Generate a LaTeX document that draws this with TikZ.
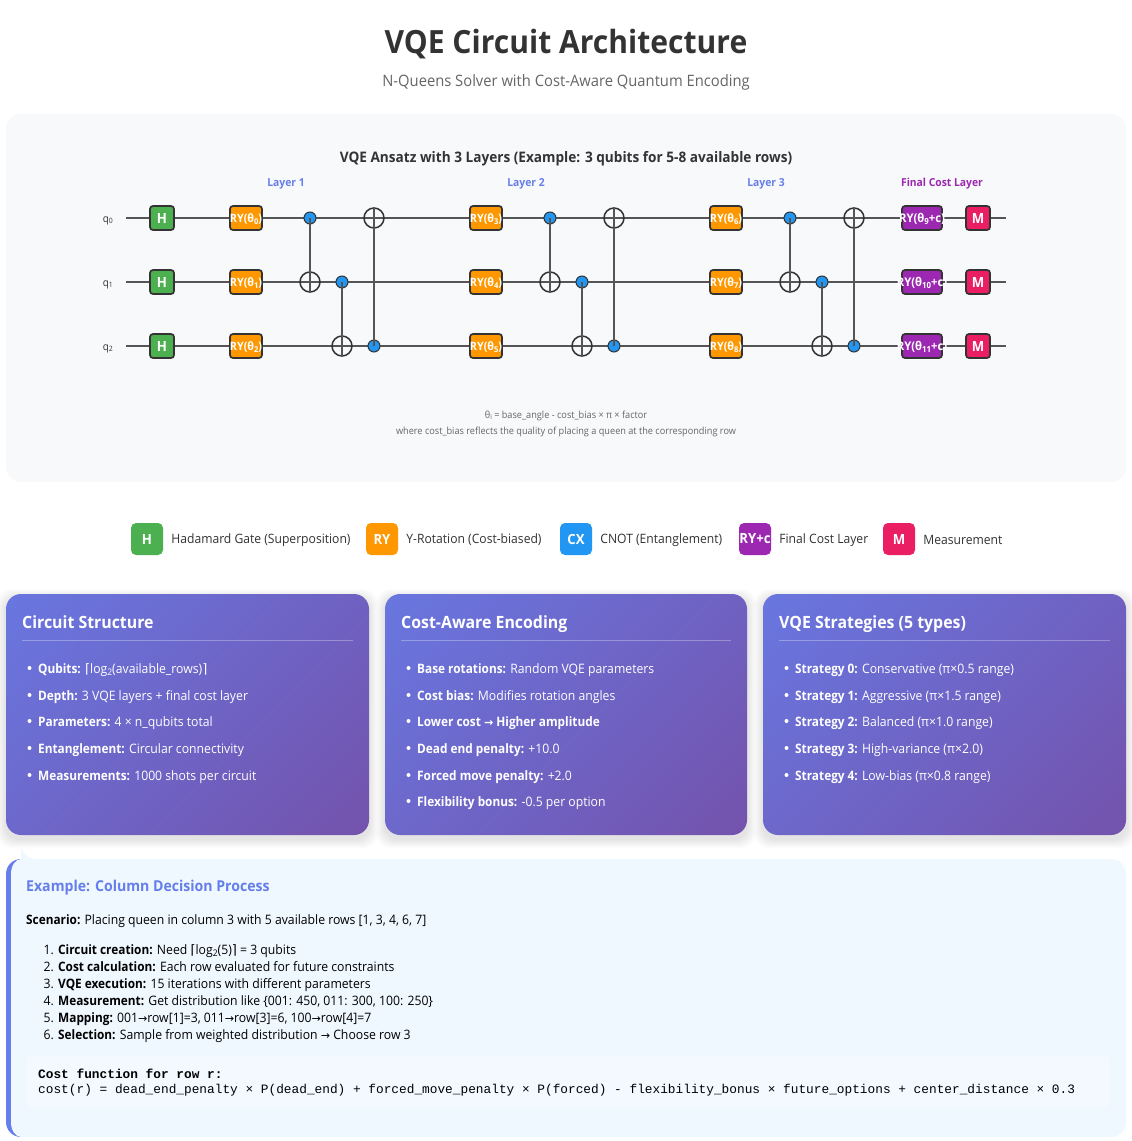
\documentclass[tikz,border=0pt]{standalone}
\usepackage{fontspec}
\setmainfont{Open Sans}[FakeStretch=0.94]
\setmonofont{Liberation Mono}
\newfontfamily\symfont{DejaVu Sans}
\newfontfamily\labfamily{Open Sans}[FakeStretch=0.91]
\usetikzlibrary{positioning}
\definecolor{inkdark}{HTML}{333333}
\definecolor{inkgray}{HTML}{666666}
\definecolor{wiregray}{HTML}{555555}
\definecolor{panelbg}{HTML}{F8F9FA}
\definecolor{examplebg}{HTML}{F0F8FF}
\definecolor{mainblue}{HTML}{667EEA}
\definecolor{mainpurple}{HTML}{764BA2}
\definecolor{hgreen}{HTML}{4CAF50}
\definecolor{ryorange}{HTML}{FF9800}
\definecolor{cxblue}{HTML}{2196F3}
\definecolor{finalpurple}{HTML}{9C27B0}
\definecolor{measpink}{HTML}{E91E63}
\pgfdeclarehorizontalshading{cardgrad}{100bp}{color(0bp)=(mainblue); color(100bp)=(mainpurple)}
\newcommand{\px}[1]{\fontsize{#1}{#1}\selectfont}
\newcommand{\low}[1]{\raisebox{-.3ex}{\scalebox{.7}{#1}}}
\newcommand{\lab}[1]{{\labfamily\bfseries #1}}
\newcommand{\ceilL}{{\symfont ⌈}}
\newcommand{\ceilR}{{\symfont ⌉}}
\newcommand{\toarrow}{{\symfont\scalebox{.85}{→}}}

\begin{document}
\begin{tikzpicture}[x=1pt, y=-1pt,
    gate/.style={draw=inkdark, line width=1.7pt, rounded corners=3pt, minimum height=24pt, inner sep=0pt, text=white, font=\px{14}\bfseries},
    hgate/.style={gate, fill=hgreen, minimum width=24pt},
    rygate/.style={gate, fill=ryorange, minimum width=32pt, text height=8.5pt, text depth=0pt, font=\px{11.5}\bfseries},
    finalgate/.style={gate, fill=finalpurple, minimum width=40pt, text height=8.5pt, text depth=0pt, font=\px{12}\bfseries},
    mgate/.style={gate, fill=measpink, minimum width=24pt},
    ctrl/.style={circle, draw=inkdark, fill=cxblue, line width=1pt, minimum size=12pt, inner sep=0pt},
    targ/.style={circle, draw=inkdark, line width=1.5pt, minimum size=20pt, inner sep=0pt},
    wire/.style={wiregray, line width=2pt},
    legbox/.style={fill=#1, rounded corners=5pt, minimum size=32pt, inner sep=0pt, text=white, font=\px{14}\bfseries},
    legtext/.style={inner sep=0pt, yshift=-1pt, text=inkdark, font=\px{12.9}},
    cardtitle/.style={anchor=base west, inner sep=0pt, text=white, font=\px{16.9}\bfseries},
    carditem/.style={anchor=base west, inner sep=0pt, text=white, font=\px{13}},
    stepitem/.style={anchor=base west, inner sep=0pt, text=black, font=\px{13}},
    codeline/.style={anchor=base west, inner sep=0pt, text=black, font=\px{12.8}\ttfamily}]
    \fill[white] (0,0) rectangle (1132,1141);
    \useasboundingbox (0,0) rectangle (1132,1141);

    \node[text=inkdark, font=\px{32}\bfseries, anchor=base, inner sep=0pt] (title) at (566,53) {VQE Circuit Architecture};
    \node[text=inkgray, font=\px{15.7}, anchor=base, inner sep=0pt] (subtitle) at (566,86) {N-Queens Solver with Cost-Aware Quantum Encoding};

    % circuit panel
    \fill[panelbg, rounded corners=15pt] (6,114) rectangle (1126,482);
    \node[text=inkdark, font=\px{14.5}\bfseries, anchor=base, inner sep=0pt] (anstitle) at (566,162) {VQE Ansatz with 3 Layers (Example: 3 qubits for 5-8 available rows)};
    \foreach \n/\x/\c/\t in {a/286/mainblue/Layer 1, b/526/mainblue/Layer 2, c/766/mainblue/Layer 3, d/942/finalpurple/Final Cost Layer}
        \node[text=\c, font=\px{11}\bfseries, anchor=base, inner sep=0pt] (layer\n) at (\x,186) {\t};

    % wires
    \foreach \q/\y in {0/218, 1/282, 2/346} {
        \node[text=inkdark, font=\px{10.5}, anchor=base east, inner sep=0pt] (q\q) at (113,\y+4) {q\low{\q}};
        \coordinate (ws\q) at (126,\y);
        \coordinate (we\q) at (1006,\y);
        \draw[wire] (ws\q) -- (we\q);
    }

    % gates
    \foreach \q/\y/\ta/\tb/\tc/\td in {0/218/0/3/6/9, 1/282/1/4/7/10, 2/346/2/5/8/11} {
        \node[hgate] (h\q) at (162,\y) {H};
        \node[rygate] (rya\q) at (246,\y) {\makebox[0pt]{RY(θ\low{\ta})}};
        \node[rygate] (ryb\q) at (486,\y) {\makebox[0pt]{RY(θ\low{\tb})}};
        \node[rygate] (ryc\q) at (726,\y) {\makebox[0pt]{RY(θ\low{\tc})}};
        \node[finalgate] (ryd\q) at (922,\y) {\makebox[0pt]{RY(θ\low{\td}+c)}};
        \node[mgate] (m\q) at (978,\y) {M};
    }

    % cnot rings
    \foreach \n/\xa/\xb/\xc in {a/310/342/374, b/550/582/614, c/790/822/854} {
        \node[ctrl] (ca\n) at (\xa,218) {};
        \node[targ] (ta\n) at (\xa,282) {};
        \node[ctrl] (cb\n) at (\xb,282) {};
        \node[targ] (tb\n) at (\xb,346) {};
        \node[ctrl] (cc\n) at (\xc,346) {};
        \node[targ] (tc\n) at (\xc,218) {};
        \draw[wire] (ca\n.center) -- (ta\n.south);
        \draw[wire] (cb\n.center) -- (tb\n.south);
        \draw[wire] (cc\n.center) -- (tc\n.north);
    }

    \node[text=inkgray, font=\px{9.75}, anchor=base, inner sep=0pt] (notea) at (566,418) {θ\low{i} = base\_angle - cost\_bias × π × factor};
    \node[text=inkgray, font=\px{9.75}, anchor=base, inner sep=0pt] (noteb) at (566,434) {where cost\_bias reflects the quality of placing a queen at the corresponding row};

    % legend
    \node[legbox=hgreen] (legh) at (147,539) {H};
    \node[legtext, right=8pt of legh] (legha) {Hadamard Gate (Superposition)};
    \node[legbox=ryorange] (legry) at (382,539) {RY};
    \node[legtext, right=8pt of legry] (legrya) {Y-Rotation (Cost-biased)};
    \node[legbox=cxblue] (legcx) at (576,539) {CX};
    \node[legtext, right=8pt of legcx] (legcxa) {CNOT (Entanglement)};
    \node[legbox=finalpurple] (legfc) at (755,539) {\makebox[0pt]{RY+c}};
    \node[legtext, right=8pt of legfc] (legfca) {Final Cost Layer};
    \node[legbox=measpink] (legm) at (899,539) {M};
    \node[legtext, right=8pt of legm] (legma) {Measurement};

    % cards
    \foreach \n/\xl/\xr/\t in {a/6/369/Circuit Structure, b/385/747/Cost-Aware Encoding, c/763/1126/VQE Strategies (5 types)} {
        \foreach \k in {1,...,9}
            \fill[black, opacity=.01, rounded corners=15pt] (\xl-\k,594+4-\k) rectangle (\xr+\k,835+4+\k);
        \path[shading=cardgrad, shading angle=-45, rounded corners=15pt] (\xl,594) rectangle (\xr,835);
        \node[cardtitle] (card\n) at (\xl+16,628) {\t};
        \coordinate (rl\n) at (\xl+16,640.5);
        \coordinate (rr\n) at (\xr-16,640.5);
        \draw[white, opacity=.3, line width=1pt] (rl\n) -- (rr\n);
    }
    \foreach \i/\y/\t in {1/673/{\lab{Qubits:} \ceilL log\low{2}(available\_rows)\ceilR},
        2/700/{\lab{Depth:} 3 VQE layers + final cost layer},
        3/726/{\lab{Parameters:} 4 × n\_qubits total},
        4/753/{\lab{Entanglement:} Circular connectivity},
        5/780/{\lab{Measurements:} 1000 shots per circuit}} {
        \node[carditem] (ia\i) at (38,\y) {\t};
        \fill[white] (29.5,\y-5) circle (2pt);
    }
    \foreach \i/\y/\t in {1/673/{\lab{Base rotations:} Random VQE parameters},
        2/700/{\lab{Cost bias:} Modifies rotation angles},
        3/726/{\lab{Lower cost \toarrow{} Higher amplitude}},
        4/753/{\lab{Dead end penalty:} +10.0},
        5/780/{\lab{Forced move penalty:} +2.0},
        6/806/{\lab{Flexibility bonus:} -0.5 per option}} {
        \node[carditem] (ib\i) at (417,\y) {\t};
        \fill[white] (408.5,\y-5) circle (2pt);
    }
    \foreach \i/\y/\t in {1/673/{\lab{Strategy 0:} Conservative (π×0.5 range)},
        2/700/{\lab{Strategy 1:} Aggressive (π×1.5 range)},
        3/726/{\lab{Strategy 2:} Balanced (π×1.0 range)},
        4/753/{\lab{Strategy 3:} High-variance (π×2.0)},
        5/780/{\lab{Strategy 4:} Low-bias (π×0.8 range)}} {
        \node[carditem] (ic\i) at (795,\y) {\t};
        \fill[white] (786.5,\y-5) circle (2pt);
    }

    % example box
    \fill[mainblue] (21,859) .. controls (12.7,859) and (6,865.7) .. (6,874) -- (6,1122) .. controls (6,1130.3) and (12.7,1137) .. (21,1137) -- cycle;
    \fill[examplebg, rounded corners=15pt] (1126,998) -- (1126,859) -- (21,859) [sharp corners] -- (21,859) .. controls (15.5,859) and (11,865.7) .. (11,874) -- (11,1122) .. controls (11,1130.3) and (15.5,1137) .. (21,1137) [rounded corners=15pt] -- (1126,1137) -- cycle;
    \node[text=mainblue, font=\px{15}\bfseries, anchor=base west, inner sep=0pt] (extitle) at (26,891) {Example: Column Decision Process};
    \node[stepitem] (scen) at (26,924) {\lab{Scenario:} Placing queen in column 3 with 5 available rows [1, 3, 4, 6, 7]};
    \foreach \i/\y/\t in {1/954/{\lab{Circuit creation:} Need \ceilL log\low{2}(5)\ceilR{} = 3 qubits},
        2/971/{\lab{Cost calculation:} Each row evaluated for future constraints},
        3/988/{\lab{VQE execution:} 15 iterations with different parameters},
        4/1005/{\lab{Measurement:} Get distribution like \{001: 450, 011: 300, 100: 250\}},
        5/1022/{\lab{Mapping:} 001\toarrow{}row[1]=3, 011\toarrow{}row[3]=6, 100\toarrow{}row[4]=7},
        6/1039/{\lab{Selection:} Sample from weighted distribution \toarrow{} Choose row 3}} {
        \node[stepitem, anchor=base east] (num\i) at (54,\y) {\i.};
        \node[stepitem] (st\i) at (58,\y) {\t};
    }
    \fill[white, opacity=.25, rounded corners=5pt] (26,1056) rectangle (1110,1108);
    \node[codeline, font=\px{12.8}\ttfamily\bfseries] (codea) at (38,1078) {Cost function for row r:};
    \node[codeline] (codeb) at (38,1093) {cost(r) = dead\_end\_penalty × P(dead\_end) + forced\_move\_penalty × P(forced) - flexibility\_bonus × future\_options + center\_distance × 0.3};
\end{tikzpicture}
\end{document}
